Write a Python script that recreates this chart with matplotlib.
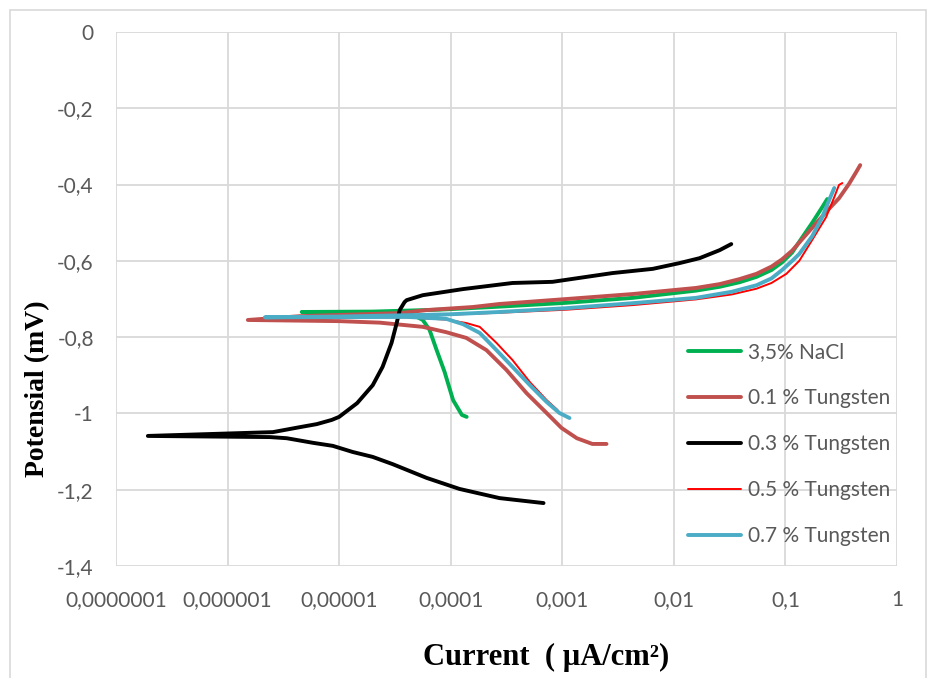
import matplotlib
matplotlib.use('Agg')
import matplotlib.pyplot as plt
import matplotlib.patches as mpatches

# ---------------- data ----------------
x_ticks = [1e-7, 1e-6, 1e-5, 1e-4, 1e-3, 1e-2, 1e-1, 1]
x_tick_labels = ['0,0000001', '0,000001', '0,00001', '0,0001', '0,001', '0,01', '0,1', '1']
y_ticks = [0, -0.2, -0.4, -0.6, -0.8, -1.0, -1.2, -1.4]
y_tick_labels = ['0', '-0,2', '-0,4', '-0,6', '-0,8', '-1', '-1,2', '-1,4']

series_names = ['3,5% NaCl', '0.1 % Tungsten', '0.3 % Tungsten', '0.5 % Tungsten', '0.7 % Tungsten']

nacl_i = [1.39e-4, 1.26e-4, 1.05e-4, 8.81e-5, 7.48e-5, 6.46e-5, 5.62e-5, 4.27e-5, 2.0e-5, 4.62e-6,
          2.0e-5, 7.94e-5, 2.75e-4, 1.09e-3, 4.27e-3, 1.58e-2, 2.57e-2, 3.89e-2, 5.5e-2, 7.5e-2,
          9.33e-2, 0.115, 0.133, 0.174, 0.214, 0.237]
nacl_e = [-1.009, -1.004, -0.965, -0.891, -0.834, -0.781, -0.755, -0.737, -0.735, -0.734,
          -0.733, -0.728, -0.720, -0.710, -0.697, -0.678, -0.668, -0.656, -0.642, -0.624,
          -0.604, -0.578, -0.550, -0.500, -0.459, -0.438]

w01_i = [2.49e-3, 1.86e-3, 1.35e-3, 9.84e-4, 7.24e-4, 4.79e-4, 3.16e-4, 2.09e-4, 1.38e-4, 9.12e-5,
         5.62e-5, 2.31e-5, 1.0e-5, 1.52e-6, 4.46e-6, 3.49e-5, 6.08e-5, 1.58e-4, 2.75e-4, 1.10e-3,
         4.27e-3, 1.58e-2, 2.57e-2, 3.86e-2, 5.5e-2, 7.5e-2, 9.33e-2, 0.115, 0.133, 0.189,
         0.247, 0.302, 0.372, 0.431, 0.468]
w01_e = [-1.080, -1.080, -1.065, -1.038, -0.999, -0.947, -0.886, -0.834, -0.802, -0.787,
         -0.773, -0.762, -0.758, -0.755, -0.745, -0.737, -0.729, -0.721, -0.713, -0.700,
         -0.687, -0.671, -0.661, -0.648, -0.634, -0.615, -0.596, -0.573, -0.552, -0.501,
         -0.463, -0.436, -0.398, -0.367, -0.349]

w03_i = [6.79e-4, 2.74e-4, 1.20e-4, 6.08e-5, 3.02e-5, 2.0e-5, 1.32e-5, 8.77e-6, 5.81e-6, 3.39e-6,
         2.40e-6, 1.93e-7,
         2.55e-6, 4.44e-6, 6.31e-6, 8.59e-6, 1.0e-5, 1.45e-5, 2.0e-5, 2.45e-5, 2.95e-5, 3.28e-5,
         3.49e-5, 3.86e-5, 4.03e-5, 5.62e-5, 1.29e-4, 3.58e-4, 8.17e-4, 2.82e-3, 6.46e-3, 1.12e-2,
         1.70e-2, 2.57e-2, 3.27e-2]
w03_e = [-1.235, -1.222, -1.198, -1.169, -1.133, -1.114, -1.101, -1.085, -1.077, -1.065,
         -1.062, -1.059,
         -1.049, -1.036, -1.028, -1.017, -1.009, -0.973, -0.926, -0.878, -0.815, -0.763,
         -0.729, -0.708, -0.703, -0.690, -0.674, -0.658, -0.655, -0.632, -0.621, -0.606,
         -0.593, -0.572, -0.556]

w05_i = [9.06e-4, 7.24e-4, 5.13e-4, 3.58e-4, 2.57e-4, 1.82e-4, 1.38e-4, 9.12e-5, 3.98e-5, 2.2e-6,
         1.0e-5, 1.0e-4, 2.75e-4, 1.10e-3, 4.27e-3, 1.58e-2, 3.31e-2, 5.5e-2, 7.5e-2, 0.102,
         0.133, 0.174, 0.232, 0.274, 0.302, 0.324]
w05_e = [-0.991, -0.965, -0.918, -0.860, -0.815, -0.773, -0.763, -0.754, -0.748, -0.748,
         -0.747, -0.741, -0.736, -0.728, -0.716, -0.701, -0.688, -0.673, -0.658, -0.634,
         -0.600, -0.545, -0.485, -0.433, -0.401, -0.396]

w07_i = [1.16e-3, 9.44e-4, 7.24e-4, 5.13e-4, 3.58e-4, 2.57e-4, 1.82e-4, 1.29e-4, 9.12e-5, 4.03e-5,
         2.16e-6, 1.0e-5, 5.0e-5, 1.0e-4, 2.75e-4, 1.10e-3, 4.27e-3, 1.58e-2, 3.31e-2, 5.5e-2,
         7.5e-2, 9.33e-2, 0.115, 0.133, 0.174, 0.214, 0.247, 0.274]
w07_e = [-1.012, -0.999, -0.970, -0.926, -0.878, -0.834, -0.789, -0.766, -0.752, -0.747,
         -0.748, -0.746, -0.742, -0.740, -0.734, -0.724, -0.711, -0.697, -0.681, -0.664,
         -0.646, -0.624, -0.600, -0.582, -0.535, -0.485, -0.440, -0.409]

colors = ['#00B050', '#C0504D', '#000000', '#FF0000', '#4BACC6']
widths = [2.8, 2.8, 2.8, 1.4, 2.8]

# ---------------- figure ----------------
W, H = 936, 678
fig = plt.figure(figsize=(W / 100, H / 100), dpi=100)

# outer chart border
fig.patches.append(mpatches.Rectangle((10 / W, -0.01), (926 - 10) / W, 1 - 10 / H + 0.01,
                                      transform=fig.transFigure, fill=False,
                                      edgecolor='#D9D9D9', linewidth=1.2))

ax = fig.add_axes([116 / W, 1 - 566 / H, (897 - 116) / W, (566 - 32) / H])
ax.set_xscale('log')
ax.set_xlim(1e-7, 1)
ax.set_ylim(-1.4, 0)

for s in ax.spines.values():
    s.set_visible(False)
ax.grid(True, which='major', color='#D9D9D9', linewidth=1.3)
ax.set_axisbelow(True)
ax.minorticks_off()

ax.set_xticks(x_ticks)
ax.set_xticklabels(x_tick_labels)
ax.set_yticks(y_ticks)
ax.set_yticklabels(y_tick_labels)
ax.tick_params(axis='both', length=0, labelcolor='#595959', labelsize=15)
ax.tick_params(axis='x', pad=17)
ax.tick_params(axis='y', pad=16)
for lab in ax.get_xticklabels() + ax.get_yticklabels():
    lab.set_family('Lato')

all_i = [nacl_i, w01_i, w03_i, w05_i, w07_i]
all_e = [nacl_e, w01_e, w03_e, w05_e, w07_e]
for xi, ye, c, lw, name in zip(all_i, all_e, colors, widths, series_names):
    ax.plot(xi, ye, color=c, linewidth=lw, label=name, solid_capstyle='round',
            solid_joinstyle='round')

leg = ax.legend(loc='center left', bbox_to_anchor=(688 / W, 1 - 444 / H),
                bbox_transform=fig.transFigure, frameon=False, borderpad=0,
                borderaxespad=0, handlelength=2.55, handletextpad=0.35,
                labelspacing=1.25, prop={'family': 'Lato', 'size': 15})
for t in leg.get_texts():
    t.set_color('#595959')

fig.text(546 / W, 1 - 657 / H, 'Current  ( µA/cm²)', ha='center', va='center',
         family='Liberation Serif', fontweight='bold', fontsize=22)
fig.text(38 / W, 1 - 389 / H, 'Potensial (mV)', ha='center', va='center', rotation=90,
         family='Liberation Serif', fontweight='bold', fontsize=20)

fig.savefig('out.png', dpi=100)
